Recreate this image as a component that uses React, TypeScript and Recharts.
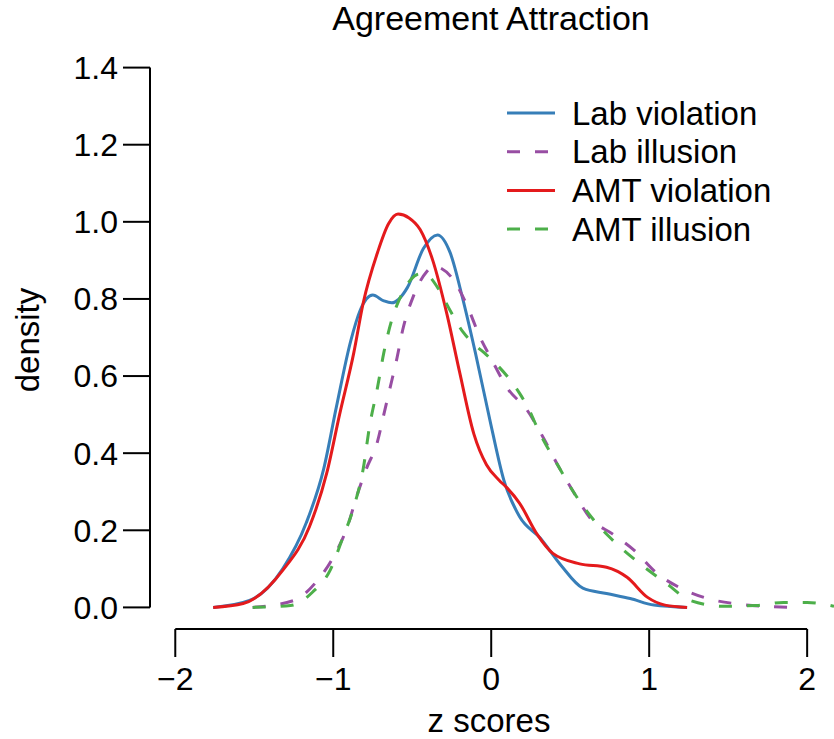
import { Legend, Line, LineChart, ReferenceLine, XAxis, YAxis } from "recharts"

// density estimates (z score -> density)
const labViolationZ = [-1.76, -1.53, -1.32, -1.17, -1.06, -0.98, -0.89, -0.83, -0.75, -0.68, -0.63, -0.53, -0.43, -0.34, -0.26, -0.18, -0.1, 0, 0.08, 0.18, 0.31, 0.44, 0.58, 0.73, 0.88, 1.03, 1.24]
const labViolationD = [0, 0.018, 0.1, 0.22, 0.36, 0.52, 0.69, 0.77, 0.81, 0.795, 0.79, 0.83, 0.93, 0.966, 0.92, 0.8, 0.66, 0.47, 0.33, 0.235, 0.18, 0.11, 0.05, 0.036, 0.023, 0.006, 0]

const labIllusionZ = [-1.51, -1.25, -1.1, -1.0, -0.91, -0.85, -0.79, -0.72, -0.68, -0.64, -0.6, -0.56, -0.49, -0.41, -0.36, -0.32, -0.24, -0.15, -0.07, 0, 0.1, 0.23, 0.33, 0.42, 0.52, 0.63, 0.77, 0.9, 1.05, 1.2, 1.37, 1.58, 1.78, 1.9]
const labIllusionD = [0, 0.018, 0.07, 0.13, 0.21, 0.29, 0.36, 0.43, 0.5, 0.57, 0.64, 0.72, 0.81, 0.87, 0.885, 0.88, 0.85, 0.78, 0.7, 0.645, 0.57, 0.51, 0.44, 0.37, 0.3, 0.23, 0.19, 0.15, 0.088, 0.05, 0.023, 0.008, 0.002, 0]

const amtViolationZ = [-1.76, -1.57, -1.32, -1.15, -1.04, -0.96, -0.87, -0.81, -0.72, -0.65, -0.59, -0.52, -0.45, -0.37, -0.28, -0.2, -0.11, -0.03, 0.05, 0.1, 0.18, 0.29, 0.39, 0.56, 0.73, 0.86, 0.99, 1.1, 1.24]
const amtViolationD = [0, 0.01, 0.096, 0.21, 0.35, 0.5, 0.66, 0.79, 0.92, 0.995, 1.02, 1.01, 0.98, 0.9, 0.76, 0.61, 0.45, 0.37, 0.33, 0.31, 0.27, 0.19, 0.14, 0.113, 0.104, 0.078, 0.026, 0.006, 0]

const amtIllusionZ = [-1.51, -1.27, -1.13, -1.02, -0.94, -0.87, -0.81, -0.77, -0.72, -0.68, -0.63, -0.58, -0.51, -0.45, -0.4, -0.34, -0.26, -0.18, -0.1, -0.03, 0.1, 0.18, 0.23, 0.31, 0.42, 0.52, 0.65, 0.77, 0.94, 1.11, 1.26, 1.47, 1.68, 1.85, 2.0, 2.17]
const amtIllusionD = [0, 0.005, 0.04, 0.096, 0.18, 0.26, 0.36, 0.47, 0.57, 0.66, 0.745, 0.8, 0.85, 0.865, 0.86, 0.83, 0.77, 0.715, 0.68, 0.655, 0.6, 0.555, 0.52, 0.45, 0.37, 0.3, 0.226, 0.174, 0.114, 0.062, 0.018, 0.003, 0.005, 0.013, 0.013, 0.003]

const xTicks = [-2, -1, 0, 1, 2]
const yTicks = [0, 0.2, 0.4, 0.6, 0.8, 1.0, 1.2, 1.4]

const FONT = "'Liberation Sans', Arial, Helvetica, sans-serif"
const DASH = "13 15"

const toPoints = (zs: number[], ds: number[]) => zs.map((z, i) => ({ z, d: ds[i] }))

const series = [
  { name: "Lab violation", color: "#377EB8", dash: undefined, data: toPoints(labViolationZ, labViolationD) },
  { name: "Lab illusion", color: "#984EA3", dash: DASH, data: toPoints(labIllusionZ, labIllusionD) },
  { name: "AMT violation", color: "#E41A1C", dash: undefined, data: toPoints(amtViolationZ, amtViolationD) },
  { name: "AMT illusion", color: "#4DAF4A", dash: DASH, data: toPoints(amtIllusionZ, amtIllusionD) },
]

const X_MIN = -2.16
const X_MAX = 2.17
const Y_MIN = -0.056
const Y_MAX = 1.456

function LegendBox() {
  return (
    <svg width={300} height={170} style={{ overflow: "visible" }}>
      {series.map((s, i) => {
        const y = 23 + i * 38.7
        return (
          <g key={s.name}>
            <line x1={7} x2={55} y1={y} y2={y} stroke={s.color} strokeWidth={3} strokeDasharray={s.dash} />
            <text x={72} y={y} dy="0.355em" fontSize={33} fontFamily={FONT} fill="#000">
              {s.name}
            </text>
          </g>
        )
      })}
    </svg>
  )
}

export default function App() {
  const tickStyle = { fill: "#000", fontSize: 32, fontFamily: FONT }
  return (
    <div style={{ position: "absolute", left: 0, top: 0, background: "#fff" }}>
      <LineChart width={834} height={739} margin={{ top: 46, right: 0, bottom: 0, left: 0 }}>
        <XAxis
          dataKey="z"
          type="number"
          domain={[X_MIN, X_MAX]}
          allowDataOverflow
          ticks={xTicks}
          interval={0}
          tickFormatter={(v: number) => (v < 0 ? "\u2212" + Math.abs(v) : String(v))}
          tick={tickStyle}
          tickSize={28}
          tickMargin={10}
          tickLine={{ stroke: "#000", strokeWidth: 2 }}
          axisLine={false}
          height={110}
        />
        <YAxis
          type="number"
          domain={[Y_MIN, Y_MAX]}
          allowDataOverflow
          ticks={yTicks}
          interval={0}
          tickFormatter={(v: number) => v.toFixed(1)}
          tick={tickStyle}
          tickSize={27}
          tickMargin={5}
          tickLine={{ stroke: "#000", strokeWidth: 2 }}
          axisLine={false}
          width={150}
        />
        <ReferenceLine
          segment={[{ x: xTicks[0], y: Y_MIN }, { x: xTicks[xTicks.length - 1], y: Y_MIN }]}
          stroke="#000"
          strokeWidth={2}
          ifOverflow="visible"
        />
        <ReferenceLine
          segment={[{ x: X_MIN, y: yTicks[0] }, { x: X_MIN, y: yTicks[yTicks.length - 1] }]}
          stroke="#000"
          strokeWidth={2}
          ifOverflow="visible"
        />
        {series.map((s) => (
          <Line
            key={s.name}
            data={s.data}
            dataKey="d"
            name={s.name}
            type="monotone"
            stroke={s.color}
            strokeWidth={3}
            strokeDasharray={s.dash}
            dot={false}
            activeDot={false}
            isAnimationActive={false}
          />
        ))}
        <Legend
          layout="horizontal"
          verticalAlign="middle"
          align="center"
          content={() => <LegendBox />}
          wrapperStyle={{ left: 500, top: 90, width: 300, height: 170 }}
        />
        <text x={491} y={30} textAnchor="middle" fontSize={34} fontFamily={FONT} fill="#000">
          Agreement Attraction
        </text>
        <text x={489} y={732} textAnchor="middle" fontSize={33} fontFamily={FONT} fill="#000">
          z scores
        </text>
        <text
          x={39}
          y={340}
          textAnchor="middle"
          fontSize={33}
          fontFamily={FONT}
          fill="#000"
          transform="rotate(-90, 39, 340)"
        >
          density
        </text>
      </LineChart>
    </div>
  )
}
